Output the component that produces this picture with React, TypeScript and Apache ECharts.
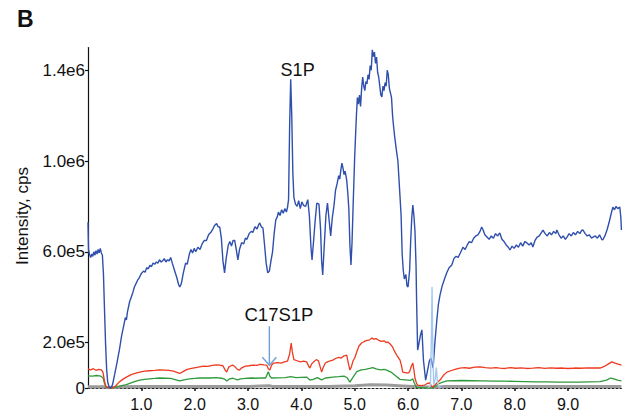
import React, { useEffect, useRef } from "react";
import * as echarts from "echarts";

// Intensities below are in units of 1e5 cps; time is in minutes.
const SCALE = 1e5;

const blueTrace: [number, number][] = [
  [0.00,7.3],[0.01,6.1],[0.03,5.85],[0.05,5.75],[0.07,5.9],[0.09,5.8],[0.11,6.0],[0.13,5.85],[0.15,6.05],[0.17,5.9],[0.19,6.1],[0.21,5.95],[0.23,6.15],[0.25,5.95],[0.27,5.85],[0.29,5.0],[0.31,3.4],[0.33,1.9],[0.35,0.8],[0.37,0.25],[0.40,0.02],[0.43,0.0],[0.46,0.15],[0.50,0.6],[0.55,1.2],[0.59,1.7],[0.63,2.3],[0.67,2.75],[0.70,3.1],[0.72,3.0],[0.74,3.35],[0.78,3.8],[0.81,4.0],[0.84,4.2],[0.87,4.45],[0.90,4.6],[0.93,4.75],[0.96,4.85],[0.99,5.0],[1.01,5.07],[1.04,5.15],[1.07,5.1],[1.10,5.3],[1.13,5.25],[1.16,5.4],[1.19,5.35],[1.22,5.5],[1.25,5.45],[1.28,5.55],[1.31,5.5],[1.34,5.65],[1.37,5.55],[1.40,5.6],[1.43,5.7],[1.46,5.55],[1.49,5.65],[1.52,5.6],[1.55,5.75],[1.58,5.5],[1.62,5.2],[1.66,4.9],[1.70,4.55],[1.72,4.45],[1.75,4.6],[1.79,5.1],[1.83,5.5],[1.86,5.45],[1.90,5.9],[1.93,6.1],[1.96,5.95],[1.99,6.15],[2.02,6.0],[2.06,6.2],[2.10,6.1],[2.14,6.35],[2.18,6.5],[2.22,6.5],[2.26,6.75],[2.30,6.85],[2.34,7.0],[2.37,7.15],[2.41,7.25],[2.44,7.1],[2.47,7.09],[2.50,6.6],[2.53,5.6],[2.56,5.07],[2.59,5.7],[2.63,6.3],[2.66,6.45],[2.69,6.25],[2.72,6.5],[2.75,6.5],[2.78,6.1],[2.81,5.64],[2.84,6.1],[2.88,6.4],[2.92,6.35],[2.95,6.6],[2.98,6.55],[3.02,6.8],[3.06,6.9],[3.09,6.85],[3.13,7.1],[3.17,7.0],[3.20,7.2],[3.22,7.27],[3.25,7.1],[3.28,7.05],[3.31,6.3],[3.34,5.5],[3.37,5.07],[3.40,5.15],[3.43,5.6],[3.46,6.0],[3.49,6.8],[3.52,7.4],[3.55,7.55],[3.57,7.75],[3.60,7.6],[3.63,7.85],[3.66,7.7],[3.69,7.9],[3.72,7.75],[3.74,7.95],[3.76,8.3],[3.78,11.5],[3.80,13.6],[3.82,12.0],[3.84,9.5],[3.86,8.4],[3.89,8.1],[3.92,8.0],[3.95,8.25],[3.98,7.9],[4.01,8.2],[4.04,8.05],[4.08,8.0],[4.12,8.3],[4.15,7.6],[4.18,6.2],[4.20,5.64],[4.23,6.5],[4.26,7.4],[4.29,8.15],[4.33,8.1],[4.36,7.0],[4.38,5.6],[4.40,4.98],[4.43,6.3],[4.46,7.6],[4.49,8.15],[4.52,7.4],[4.55,6.7],[4.58,7.5],[4.61,8.0],[4.64,8.7],[4.67,9.0],[4.70,9.35],[4.72,9.2],[4.74,9.6],[4.76,9.91],[4.78,9.7],[4.80,9.4],[4.82,9.55],[4.85,9.16],[4.87,8.6],[4.89,7.9],[4.91,6.3],[4.93,5.42],[4.95,6.4],[4.97,8.0],[5.00,10.2],[5.03,11.9],[5.05,12.8],[5.07,12.5],[5.09,12.9],[5.11,12.4],[5.13,13.2],[5.15,13.7],[5.17,13.3],[5.19,13.1],[5.21,13.5],[5.23,13.4],[5.25,13.8],[5.27,13.6],[5.29,14.2],[5.31,14.0],[5.33,14.9],[5.35,14.6],[5.37,14.8],[5.39,14.3],[5.41,14.58],[5.43,13.9],[5.45,13.7],[5.47,13.3],[5.49,12.9],[5.51,12.82],[5.53,13.3],[5.55,13.1],[5.57,13.45],[5.59,13.3],[5.61,14.0],[5.63,13.8],[5.65,13.2],[5.67,13.0],[5.69,12.8],[5.71,12.0],[5.73,11.5],[5.75,11.06],[5.78,10.5],[5.81,10.0],[5.83,9.2],[5.85,8.41],[5.87,7.6],[5.89,5.9],[5.91,5.2],[5.93,4.8],[5.96,5.0],[5.98,4.5],[6.00,4.45],[6.03,5.2],[6.05,6.5],[6.07,7.5],[6.09,8.06],[6.11,7.6],[6.13,6.9],[6.15,5.4],[6.16,3.9],[6.18,1.67],[6.20,1.9],[6.23,2.3],[6.26,2.56],[6.29,1.2],[6.33,0.35],[6.36,0.7],[6.40,1.2],[6.43,1.32],[6.47,0.88],[6.50,1.9],[6.54,3.0],[6.57,3.7],[6.60,4.1],[6.64,4.5],[6.69,4.85],[6.73,5.1],[6.77,5.3],[6.82,5.42],[6.86,5.7],[6.90,5.8],[6.94,5.75],[6.98,5.95],[7.03,6.2],[7.07,6.1],[7.11,6.3],[7.15,6.45],[7.19,6.4],[7.23,6.6],[7.27,6.7],[7.31,6.75],[7.35,6.9],[7.38,7.09],[7.41,6.95],[7.44,6.75],[7.48,6.65],[7.52,6.55],[7.56,6.7],[7.60,6.6],[7.64,6.8],[7.68,6.7],[7.72,6.83],[7.76,6.55],[7.80,6.45],[7.84,6.3],[7.88,6.2],[7.91,6.08],[7.95,6.25],[7.99,6.15],[8.03,6.3],[8.07,6.2],[8.11,6.4],[8.15,6.25],[8.19,6.45],[8.23,6.39],[8.27,6.3],[8.31,6.4],[8.34,6.21],[8.38,6.5],[8.42,6.65],[8.46,6.7],[8.50,6.85],[8.53,6.96],[8.57,6.8],[8.61,6.7],[8.65,6.85],[8.69,6.75],[8.73,6.9],[8.77,6.8],[8.79,6.96],[8.83,6.75],[8.87,6.6],[8.91,6.7],[8.95,6.55],[8.98,6.65],[9.02,6.8],[9.06,6.7],[9.10,6.85],[9.14,6.75],[9.18,6.9],[9.22,6.8],[9.26,6.95],[9.28,6.96],[9.32,6.8],[9.36,6.7],[9.40,6.75],[9.44,6.6],[9.47,6.65],[9.51,6.7],[9.55,6.6],[9.59,6.75],[9.63,6.55],[9.65,6.52],[9.69,6.7],[9.73,6.96],[9.77,7.3],[9.80,7.6],[9.84,7.97],[9.87,7.85],[9.90,8.0],[9.93,7.9],[9.97,7.97],[9.99,7.5],[10.0,6.96],
];

const redTrace: [number, number][] = [
  [0.00,0.84],[0.05,0.8],[0.10,0.85],[0.15,0.78],[0.20,0.82],[0.25,0.8],[0.28,0.7],[0.31,0.3],[0.34,0.05],[0.40,0.0],[0.47,0.0],[0.52,0.1],[0.58,0.25],[0.65,0.38],[0.72,0.48],[0.80,0.58],[0.88,0.64],[0.97,0.70],[1.06,0.74],[1.15,0.76],[1.25,0.78],[1.34,0.8],[1.44,0.79],[1.52,0.78],[1.60,0.74],[1.68,0.68],[1.72,0.64],[1.78,0.72],[1.86,0.82],[1.94,0.86],[2.02,0.9],[2.09,0.93],[2.17,0.96],[2.25,0.95],[2.33,1.0],[2.40,1.02],[2.47,1.01],[2.53,0.98],[2.57,0.8],[2.60,0.7],[2.64,0.92],[2.68,0.98],[2.71,1.01],[2.75,0.95],[2.80,0.82],[2.84,0.79],[2.89,0.9],[2.95,0.96],[3.02,0.98],[3.09,1.01],[3.16,1.0],[3.23,1.04],[3.30,1.02],[3.35,1.01],[3.38,0.85],[3.41,0.79],[3.44,1.0],[3.48,1.1],[3.55,1.12],[3.62,1.1],[3.68,1.15],[3.74,1.18],[3.78,1.5],[3.81,1.98],[3.83,1.6],[3.86,1.25],[3.92,1.2],[3.98,1.15],[4.04,1.18],[4.10,1.15],[4.14,0.95],[4.16,0.88],[4.19,1.05],[4.23,1.15],[4.28,1.25],[4.32,1.2],[4.35,0.95],[4.38,0.70],[4.41,0.9],[4.45,1.1],[4.49,1.15],[4.54,1.2],[4.59,1.23],[4.64,1.3],[4.70,1.35],[4.75,1.32],[4.80,1.42],[4.85,1.45],[4.88,1.1],[4.91,0.79],[4.94,0.95],[4.97,1.2],[5.00,1.32],[5.04,1.6],[5.08,1.85],[5.13,1.98],[5.18,2.05],[5.23,2.1],[5.28,2.12],[5.32,2.2],[5.36,2.15],[5.40,2.18],[5.45,2.1],[5.50,2.05],[5.55,2.08],[5.59,2.0],[5.62,2.03],[5.66,1.95],[5.71,1.81],[5.75,1.6],[5.80,1.4],[5.85,1.23],[5.88,0.95],[5.90,0.7],[5.95,0.68],[6.00,0.66],[6.03,0.72],[6.06,0.95],[6.09,1.1],[6.11,0.8],[6.13,0.44],[6.16,0.2],[6.18,0.13],[6.24,0.1],[6.31,0.13],[6.36,0.2],[6.41,0.22],[6.44,0.08],[6.46,0.04],[6.50,0.12],[6.55,0.25],[6.60,0.35],[6.66,0.55],[6.73,0.7],[6.80,0.76],[6.88,0.82],[6.97,0.88],[7.06,0.9],[7.15,0.87],[7.25,0.92],[7.35,0.93],[7.45,0.9],[7.55,0.88],[7.65,0.9],[7.72,0.88],[7.82,0.86],[7.92,0.9],[8.02,0.87],[8.12,0.89],[8.22,0.86],[8.34,0.88],[8.45,0.9],[8.56,0.86],[8.67,0.89],[8.78,0.87],[8.90,0.88],[9.00,0.86],[9.12,0.88],[9.24,0.87],[9.36,0.89],[9.48,0.88],[9.60,0.88],[9.68,0.95],[9.75,1.05],[9.82,1.15],[9.88,1.1],[9.94,1.05],[10.0,1.01],
];

const greenTrace: [number, number][] = [
  [0.00,0.53],[0.08,0.52],[0.16,0.55],[0.24,0.52],[0.28,0.45],[0.31,0.2],[0.34,0.02],[0.45,0.0],[0.55,0.05],[0.63,0.1],[0.72,0.15],[0.82,0.24],[0.90,0.3],[0.97,0.35],[1.06,0.38],[1.15,0.4],[1.25,0.42],[1.34,0.44],[1.45,0.43],[1.55,0.42],[1.65,0.36],[1.72,0.31],[1.80,0.36],[1.90,0.4],[2.00,0.42],[2.09,0.44],[2.20,0.45],[2.30,0.44],[2.40,0.46],[2.50,0.43],[2.57,0.38],[2.60,0.31],[2.65,0.4],[2.72,0.43],[2.80,0.36],[2.86,0.4],[2.95,0.42],[3.05,0.44],[3.15,0.43],[3.25,0.45],[3.33,0.44],[3.36,0.6],[3.38,0.72],[3.41,0.52],[3.44,0.44],[3.55,0.45],[3.70,0.46],[3.80,0.5],[3.90,0.46],[4.00,0.47],[4.10,0.48],[4.16,0.35],[4.22,0.38],[4.30,0.46],[4.38,0.36],[4.45,0.44],[4.59,0.48],[4.70,0.5],[4.80,0.52],[4.86,0.45],[4.91,0.26],[4.96,0.45],[5.04,0.72],[5.12,0.8],[5.20,0.82],[5.28,0.86],[5.34,0.9],[5.40,0.84],[5.48,0.8],[5.55,0.82],[5.60,0.79],[5.68,0.7],[5.76,0.55],[5.85,0.38],[5.95,0.36],[6.05,0.34],[6.09,0.4],[6.12,0.2],[6.16,0.03],[6.30,0.0],[6.46,0.0],[6.52,0.1],[6.60,0.22],[6.68,0.28],[6.73,0.31],[6.85,0.32],[7.00,0.33],[7.20,0.32],[7.40,0.31],[7.60,0.3],[7.80,0.3],[8.00,0.29],[8.20,0.28],[8.40,0.27],[8.60,0.27],[8.80,0.26],[9.00,0.26],[9.20,0.26],[9.40,0.27],[9.60,0.28],[9.72,0.35],[9.80,0.44],[9.86,0.4],[9.93,0.35],[10.0,0.31],
];

const grayTrace: [number, number][] = [
  [0,0.06],[0.3,0.06],[0.35,0.02],[0.5,0.02],[0.6,0.05],[1,0.07],[2,0.07],[3,0.07],[3.4,0.1],[3.45,0.07],[4.5,0.07],[5.0,0.1],[5.3,0.14],[5.6,0.13],[5.9,0.09],[6.2,0.05],[6.5,0.03],[6.7,0.07],[8,0.07],[10,0.07],
];

const spikeTrace: [number, number][] = [
  [6.38,0.0],[6.42,0.1],[6.44,2.5],[6.45,4.45],[6.46,2.5],[6.48,0.15],[6.51,0.4],[6.53,0.9],[6.55,0.3],[6.58,0.05],[6.62,0.0],
];

const yTickValues = [0, 2e5, 6e5, 1e6, 1.4e6];
const xTickValues = [1, 2, 3, 4, 5, 6, 7, 8, 9];

// Annotation anchors in data coordinates: [minutes, 1e5 cps]
const s1pLabelAt: [number, number] = [3.93, 14.0];
const c17LabelAt: [number, number] = [3.58, 3.22];
const c17ArrowFrom: [number, number] = [3.40, 2.72];
const c17ArrowTo: [number, number] = [3.40, 1.0];

const FONT = "'Liberation Sans', Arial, Helvetica, sans-serif";

const toCps = (arr: [number, number][]) => arr.map(([t, v]) => [t, v * SCALE]);

function line(data: [number, number][], color: string, width: number, z: number) {
  return {
    type: "line",
    data: toCps(data),
    showSymbol: false,
    symbol: "none",
    smooth: false,
    lineStyle: { color, width },
    z,
    silent: true,
  };
}

export default function App() {
  const ref = useRef<HTMLDivElement>(null);

  useEffect(() => {
    if (!ref.current) return;
    const chart = echarts.init(ref.current, null, { renderer: "svg" });
    chart.setOption({
      animation: false,
      grid: { left: 88, right: 1.6, top: 47.5, bottom: 29 },
      xAxis: {
        type: "value",
        min: 0,
        max: 10,
        axisLine: { show: true, lineStyle: { color: "#222", width: 1.2, type: [2, 2] } },
        axisTick: { show: true, length: 3, customValues: xTickValues, lineStyle: { color: "#111", width: 1.5 } },
        axisLabel: {
          customValues: xTickValues,
          formatter: (v: number) => v.toFixed(1),
          color: "#111",
          fontSize: 16,
          fontFamily: FONT,
          margin: 8,
        },
        splitLine: { show: false },
      },
      yAxis: {
        type: "value",
        min: 0,
        max: 1.5e6,
        axisLine: { show: true, lineStyle: { color: "#111", width: 1.2 } },
        axisTick: { show: true, length: 3, customValues: yTickValues, lineStyle: { color: "#111", width: 1.2 } },
        axisLabel: {
          customValues: yTickValues,
          formatter: (v: number) => (v === 0 ? "0" : v.toExponential(1).replace("+", "")),
          color: "#111",
          fontSize: 17,
          fontFamily: FONT,
          margin: 3,
        },
        splitLine: { show: false },
      },
      series: [
        line(grayTrace, "#9b9b9b", 3, 1),
        line(greenTrace, "#2e9a3c", 1.3, 2),
        line(redTrace, "#ee3b1f", 1.3, 3),
        line(blueTrace, "#2f4fad", 1.4, 4),
        line(spikeTrace, "#a6c8ee", 1.4, 5),
      ],
    });

    const px = (p: [number, number]) => chart.convertToPixel({ gridIndex: 0 }, [p[0], p[1] * SCALE]) as number[];
    const s1p = px(s1pLabelAt);
    const c17 = px(c17LabelAt);
    const a0 = px(c17ArrowFrom);
    const a1 = px(c17ArrowTo);

    chart.setOption({
      graphic: [
        {
          type: "text",
          left: 17,
          top: 7,
          style: { text: "B", fontSize: 23, fontWeight: "bold", fontFamily: FONT, fill: "#111" },
        },
        {
          type: "text",
          x: 22,
          y: 216,
          rotation: Math.PI / 2,
          style: {
            text: "Intensity, cps",
            fontSize: 17,
            fontFamily: FONT,
            fill: "#111",
            align: "center",
            verticalAlign: "middle",
          },
        },
        {
          type: "text",
          x: s1p[0],
          y: s1p[1],
          style: { text: "S1P", fontSize: 18, fontFamily: FONT, fill: "#111", align: "center", verticalAlign: "middle" },
        },
        {
          type: "text",
          x: c17[0],
          y: c17[1],
          style: { text: "C17S1P", fontSize: 18.5, fontFamily: FONT, fill: "#111", align: "center", verticalAlign: "middle" },
        },
        {
          type: "line",
          shape: { x1: a0[0], y1: a0[1], x2: a1[0], y2: a1[1] },
          style: { stroke: "#6f9fd8", lineWidth: 1.4 },
        },
        {
          type: "polyline",
          shape: { points: [[a1[0] - 7, a1[1] - 8], [a1[0], a1[1]], [a1[0] + 7, a1[1] - 8]] },
          style: { stroke: "#6f9fd8", lineWidth: 1.4, fill: "none" },
        },
      ],
    });

    return () => chart.dispose();
  }, []);

  return (
    <div
      ref={ref}
      style={{ position: "fixed", left: 0, top: 0, width: 623, height: 417, background: "#fff" }}
    />
  );
}
